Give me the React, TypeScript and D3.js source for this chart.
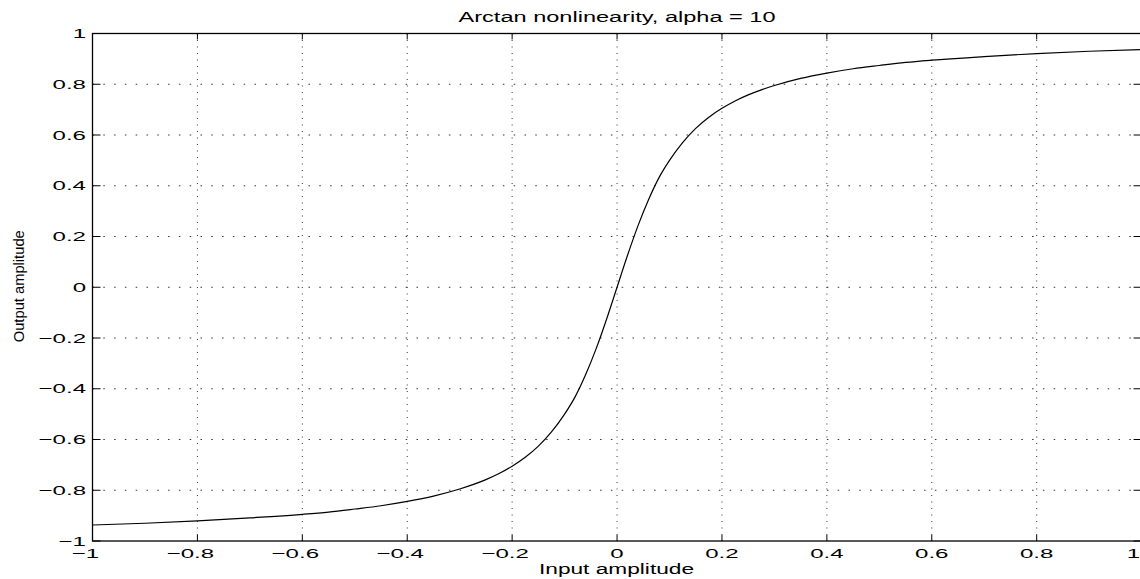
import React from "react";
import * as d3 from "d3";

const TITLE = "Arctan nonlinearity, alpha = 10";
const X_LABEL = "Input amplitude";
const Y_LABEL = "Output amplitude";

const xTicks = [-1, -0.8, -0.6, -0.4, -0.2, 0, 0.2, 0.4, 0.6, 0.8, 1];
const yTicks = [-1, -0.8, -0.6, -0.4, -0.2, 0, 0.2, 0.4, 0.6, 0.8, 1];

// values
const inputX = [
  -1, -0.9, -0.8, -0.7, -0.6, -0.55, -0.5, -0.45, -0.4, -0.35, -0.3, -0.275, -0.25, -0.225, -0.2, -0.175, -0.15, -0.125, -0.1, -0.08, -0.06, -0.04, -0.02, 0,
  0.02, 0.04, 0.06, 0.08, 0.1, 0.125, 0.15, 0.175, 0.2, 0.225, 0.25, 0.275, 0.3, 0.35, 0.4, 0.45, 0.5, 0.55, 0.6, 0.7, 0.8, 0.9, 1,
];
const outputY = [
  -0.937, -0.930, -0.921, -0.909, -0.895, -0.886, -0.874, -0.861, -0.844, -0.823, -0.795, -0.778, -0.758, -0.734, -0.705, -0.670, -0.626, -0.570, -0.500, -0.432, -0.345, -0.243, -0.126, 0,
  0.126, 0.243, 0.345, 0.432, 0.500, 0.570, 0.626, 0.670, 0.705, 0.734, 0.758, 0.778, 0.795, 0.823, 0.844, 0.861, 0.874, 0.886, 0.895, 0.909, 0.921, 0.930, 0.937,
];

const FONT = "'Liberation Sans', Arial, Helvetica, sans-serif";

export default function App() {
  const W = 1140;
  const H = 579;
  const left = 92.5;
  const right = 1141.6;
  const top = 33.5;
  const bottom = 541;

  const x = d3.scaleLinear().domain([-1, 1]).range([left, right]);
  const y = d3.scaleLinear().domain([-1, 1]).range([bottom, top]);

  const pts: [number, number][] = inputX.map((v, i) => [v, outputY[i]]);
  const line = d3
    .line<[number, number]>()
    .x((d) => x(d[0]))
    .y((d) => y(d[1]))
    .curve(d3.curveMonotoneX);

  const fs = 13;
  const sx = 1.85;
  const fmt = (v: number) => {
    const a = Math.abs(v);
    return a === 0 ? "0" : String(+a.toFixed(1));
  };
  const numWidth = (s: string) => {
    let w = 0;
    for (const c of s) w += c === "." ? 0.278 : 0.556;
    return w * fs * sx;
  };

  return (
    <svg width={W} height={H} style={{ position: "absolute", left: 0, top: 0, background: "#fff" }}>
      <rect x={0} y={0} width={W} height={H} fill="#fff" />
      {/* grid */}
      {xTicks
        .filter((t) => t > -1 && t < 1)
        .map((t) => (
          <line
            key={"gx" + t}
            x1={x(t)}
            x2={x(t)}
            y1={top}
            y2={bottom}
            stroke="#333"
            strokeWidth={1}
            strokeDasharray="1 5.5"
          />
        ))}
      {yTicks
        .filter((t) => t > -1 && t < 1)
        .map((t) => (
          <line
            key={"gy" + t}
            x1={left}
            x2={right}
            y1={y(t)}
            y2={y(t)}
            stroke="#333"
            strokeWidth={1}
            strokeDasharray="1.5 9.3"
          />
        ))}
      {/* ticks */}
      {xTicks.map((t) => (
        <g key={"tx" + t}>
          <line x1={x(t)} x2={x(t)} y1={bottom} y2={bottom - 6} stroke="#000" />
          <line x1={x(t)} x2={x(t)} y1={top} y2={top + 6} stroke="#000" />
        </g>
      ))}
      {yTicks.map((t) => (
        <g key={"ty" + t}>
          <line x1={left} x2={left + 8} y1={y(t)} y2={y(t)} stroke="#000" />
          <line x1={right} x2={right - 8} y1={y(t)} y2={y(t)} stroke="#000" />
        </g>
      ))}
      {/* axes box */}
      <rect x={left} y={top} width={right - left} height={bottom - top} fill="none" stroke="#000" strokeWidth={1.3} />
      {/* curve */}
      <path d={line(pts) || ""} fill="none" stroke="#000" strokeWidth={1.2} />
      {/* x tick labels */}
      {xTicks.map((t) => {
        const s = fmt(t);
        const w = numWidth(s);
        const label = (t < 0 ? "\u2212" : "") + s;
        return (
          <text
            key={"lx" + t}
            transform={`translate(${Math.min(x(t) + w / 2, 1140)},558) scale(${sx},1)`}
            textAnchor="end"
            fontFamily={FONT}
            fontSize={fs}
            fill="#000"
          >
            {label}
          </text>
        );
      })}
      {/* y tick labels */}
      {yTicks.map((t) => {
        const label = (t < 0 ? "\u2212" : "") + fmt(t);
        return (
          <text
            key={"ly" + t}
            transform={`translate(86,${y(t) + 4.7}) scale(${sx},1)`}
            textAnchor="end"
            fontFamily={FONT}
            fontSize={fs}
            fill="#000"
          >
            {label}
          </text>
        );
      })}
      {/* title */}
      <text
        x={(left + right) / 2}
        y={21.5}
        textAnchor="middle"
        fontFamily={FONT}
        fontSize={14}
        textLength={317}
        lengthAdjust="spacingAndGlyphs"
        fill="#000"
      >
        {TITLE}
      </text>
      {/* x label */}
      <text
        x={616.5}
        y={574}
        textAnchor="middle"
        fontFamily={FONT}
        fontSize={14}
        textLength={155}
        lengthAdjust="spacingAndGlyphs"
        fill="#000"
      >
        {X_LABEL}
      </text>
      {/* y label */}
      <text
        transform={`translate(23.5,${(top + bottom) / 2 - 1}) rotate(-90)`}
        textAnchor="middle"
        fontFamily={FONT}
        fontSize={15}
        textLength={112}
        lengthAdjust="spacingAndGlyphs"
        fill="#000"
      >
        {Y_LABEL}
      </text>
    </svg>
  );
}
